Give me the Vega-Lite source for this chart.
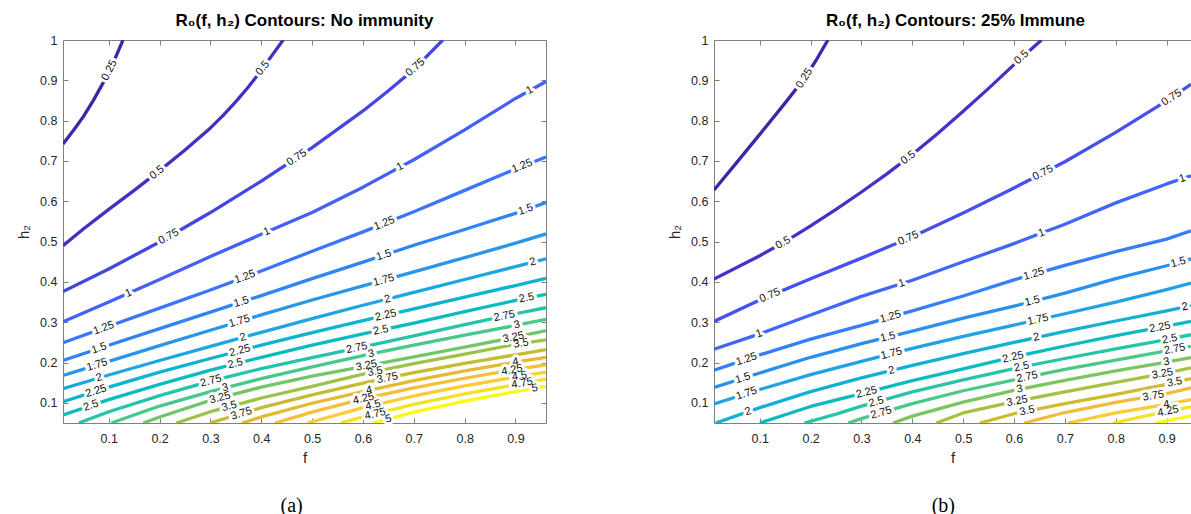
{
  "$schema": "https://vega.github.io/schema/vega-lite/v6.json",
  "padding": {"left": 16, "top": 12, "right": 0, "bottom": 0},
  "spacing": 120,
  "config": {
    "view": {"stroke": null},
    "font": "Liberation Sans",
    "axis": {"domainColor": "#808080", "tickColor": "#808080", "labelColor": "#262626", "titleColor": "#262626", "labelFontSize": 12.5, "titleFontSize": 15, "titleFontWeight": "normal", "grid": false, "labelFont": "Liberation Sans", "titleFont": "Liberation Sans", "domainWidth": 1, "tickWidth": 1}
  },
  "resolve": {"scale": {"color": "independent"}},
  "datasets": {
    "linesA": [
      {"level":0.25,"f":0.01,"h":0.742},{"level":0.25,"f":0.03,"h":0.775},{"level":0.25,"f":0.05,"h":0.810},{"level":0.25,"f":0.07,"h":0.851},{"level":0.25,"f":0.09,"h":0.896},{"level":0.25,"f":0.11,"h":0.947},{"level":0.25,"f":0.128,"h":1.0},
      {"level":0.5,"f":0.01,"h":0.490},{"level":0.5,"f":0.05,"h":0.531},{"level":0.5,"f":0.10,"h":0.580},{"level":0.5,"f":0.15,"h":0.627},{"level":0.5,"f":0.20,"h":0.676},{"level":0.5,"f":0.25,"h":0.727},{"level":0.5,"f":0.30,"h":0.782},{"level":0.5,"f":0.325,"h":0.813},{"level":0.5,"f":0.35,"h":0.847},{"level":0.5,"f":0.375,"h":0.884},{"level":0.5,"f":0.40,"h":0.925},{"level":0.5,"f":0.42,"h":0.960},{"level":0.5,"f":0.443,"h":1.0},
      {"level":0.75,"f":0.01,"h":0.376},{"level":0.75,"f":0.1,"h":0.432},{"level":0.75,"f":0.2,"h":0.499},{"level":0.75,"f":0.3,"h":0.572},{"level":0.75,"f":0.4,"h":0.650},{"level":0.75,"f":0.5,"h":0.733},{"level":0.75,"f":0.6,"h":0.824},{"level":0.75,"f":0.65,"h":0.874},{"level":0.75,"f":0.7,"h":0.927},{"level":0.75,"f":0.757,"h":1.0},
      {"level":1,"f":0.01,"h":0.301},{"level":1,"f":0.1,"h":0.350},{"level":1,"f":0.2,"h":0.406},{"level":1,"f":0.3,"h":0.463},{"level":1,"f":0.4,"h":0.518},{"level":1,"f":0.5,"h":0.572},{"level":1,"f":0.6,"h":0.635},{"level":1,"f":0.7,"h":0.703},{"level":1,"f":0.8,"h":0.777},{"level":1,"f":0.9,"h":0.855},{"level":1,"f":0.96,"h":0.897},
      {"level":1.25,"f":0.01,"h":0.249},{"level":1.25,"f":0.1,"h":0.290},{"level":1.25,"f":0.2,"h":0.335},{"level":1.25,"f":0.3,"h":0.380},{"level":1.25,"f":0.4,"h":0.427},{"level":1.25,"f":0.5,"h":0.476},{"level":1.25,"f":0.6,"h":0.524},{"level":1.25,"f":0.7,"h":0.574},{"level":1.25,"f":0.8,"h":0.627},{"level":1.25,"f":0.9,"h":0.680},{"level":1.25,"f":0.96,"h":0.710},
      {"level":1.5,"f":0.01,"h":0.205},{"level":1.5,"f":0.1,"h":0.243},{"level":1.5,"f":0.2,"h":0.284},{"level":1.5,"f":0.3,"h":0.325},{"level":1.5,"f":0.4,"h":0.366},{"level":1.5,"f":0.5,"h":0.408},{"level":1.5,"f":0.6,"h":0.449},{"level":1.5,"f":0.7,"h":0.491},{"level":1.5,"f":0.8,"h":0.530},{"level":1.5,"f":0.9,"h":0.570},{"level":1.5,"f":0.96,"h":0.597},
      {"level":1.75,"f":0.01,"h":0.168},{"level":1.75,"f":0.1,"h":0.203},{"level":1.75,"f":0.2,"h":0.242},{"level":1.75,"f":0.3,"h":0.280},{"level":1.75,"f":0.4,"h":0.318},{"level":1.75,"f":0.5,"h":0.355},{"level":1.75,"f":0.6,"h":0.390},{"level":1.75,"f":0.7,"h":0.425},{"level":1.75,"f":0.8,"h":0.460},{"level":1.75,"f":0.9,"h":0.496},{"level":1.75,"f":0.96,"h":0.519},
      {"level":2,"f":0.01,"h":0.135},{"level":2,"f":0.1,"h":0.169},{"level":2,"f":0.2,"h":0.205},{"level":2,"f":0.3,"h":0.240},{"level":2,"f":0.4,"h":0.275},{"level":2,"f":0.5,"h":0.309},{"level":2,"f":0.6,"h":0.342},{"level":2,"f":0.7,"h":0.374},{"level":2,"f":0.8,"h":0.406},{"level":2,"f":0.9,"h":0.438},{"level":2,"f":0.96,"h":0.457},
      {"level":2.25,"f":0.01,"h":0.103},{"level":2.25,"f":0.1,"h":0.139},{"level":2.25,"f":0.2,"h":0.176},{"level":2.25,"f":0.3,"h":0.210},{"level":2.25,"f":0.4,"h":0.243},{"level":2.25,"f":0.5,"h":0.274},{"level":2.25,"f":0.6,"h":0.304},{"level":2.25,"f":0.7,"h":0.333},{"level":2.25,"f":0.8,"h":0.362},{"level":2.25,"f":0.9,"h":0.391},{"level":2.25,"f":0.96,"h":0.409},
      {"level":2.5,"f":0.01,"h":0.070},{"level":2.5,"f":0.1,"h":0.108},{"level":2.5,"f":0.2,"h":0.146},{"level":2.5,"f":0.3,"h":0.181},{"level":2.5,"f":0.4,"h":0.213},{"level":2.5,"f":0.5,"h":0.243},{"level":2.5,"f":0.6,"h":0.271},{"level":2.5,"f":0.7,"h":0.298},{"level":2.5,"f":0.8,"h":0.326},{"level":2.5,"f":0.9,"h":0.354},{"level":2.5,"f":0.96,"h":0.369},
      {"level":2.75,"f":0.041,"h":0.05},{"level":2.75,"f":0.1,"h":0.078},{"level":2.75,"f":0.2,"h":0.118},{"level":2.75,"f":0.3,"h":0.154},{"level":2.75,"f":0.4,"h":0.185},{"level":2.75,"f":0.5,"h":0.212},{"level":2.75,"f":0.6,"h":0.239},{"level":2.75,"f":0.7,"h":0.266},{"level":2.75,"f":0.8,"h":0.294},{"level":2.75,"f":0.9,"h":0.321},{"level":2.75,"f":0.96,"h":0.336},
      {"level":3,"f":0.105,"h":0.05},{"level":3,"f":0.2,"h":0.092},{"level":3,"f":0.3,"h":0.128},{"level":3,"f":0.4,"h":0.160},{"level":3,"f":0.5,"h":0.189},{"level":3,"f":0.6,"h":0.217},{"level":3,"f":0.7,"h":0.243},{"level":3,"f":0.8,"h":0.268},{"level":3,"f":0.9,"h":0.292},{"level":3,"f":0.96,"h":0.307},
      {"level":3.25,"f":0.168,"h":0.05},{"level":3.25,"f":0.2,"h":0.065},{"level":3.25,"f":0.3,"h":0.106},{"level":3.25,"f":0.4,"h":0.139},{"level":3.25,"f":0.5,"h":0.166},{"level":3.25,"f":0.6,"h":0.190},{"level":3.25,"f":0.7,"h":0.214},{"level":3.25,"f":0.8,"h":0.238},{"level":3.25,"f":0.9,"h":0.263},{"level":3.25,"f":0.96,"h":0.279},
      {"level":3.5,"f":0.233,"h":0.05},{"level":3.5,"f":0.3,"h":0.078},{"level":3.5,"f":0.4,"h":0.112},{"level":3.5,"f":0.5,"h":0.141},{"level":3.5,"f":0.6,"h":0.171},{"level":3.5,"f":0.7,"h":0.197},{"level":3.5,"f":0.8,"h":0.221},{"level":3.5,"f":0.9,"h":0.245},{"level":3.5,"f":0.96,"h":0.256},
      {"level":3.75,"f":0.299,"h":0.05},{"level":3.75,"f":0.4,"h":0.088},{"level":3.75,"f":0.5,"h":0.120},{"level":3.75,"f":0.6,"h":0.149},{"level":3.75,"f":0.7,"h":0.175},{"level":3.75,"f":0.8,"h":0.198},{"level":3.75,"f":0.9,"h":0.219},{"level":3.75,"f":0.96,"h":0.232},
      {"level":4,"f":0.362,"h":0.05},{"level":4,"f":0.4,"h":0.065},{"level":4,"f":0.5,"h":0.099},{"level":4,"f":0.6,"h":0.128},{"level":4,"f":0.7,"h":0.155},{"level":4,"f":0.8,"h":0.179},{"level":4,"f":0.9,"h":0.201},{"level":4,"f":0.96,"h":0.213},
      {"level":4.25,"f":0.427,"h":0.05},{"level":4.25,"f":0.5,"h":0.077},{"level":4.25,"f":0.6,"h":0.110},{"level":4.25,"f":0.7,"h":0.137},{"level":4.25,"f":0.8,"h":0.161},{"level":4.25,"f":0.9,"h":0.183},{"level":4.25,"f":0.96,"h":0.194},
      {"level":4.5,"f":0.491,"h":0.05},{"level":4.5,"f":0.6,"h":0.088},{"level":4.5,"f":0.7,"h":0.117},{"level":4.5,"f":0.8,"h":0.142},{"level":4.5,"f":0.9,"h":0.164},{"level":4.5,"f":0.96,"h":0.176},
      {"level":4.75,"f":0.556,"h":0.05},{"level":4.75,"f":0.6,"h":0.065},{"level":4.75,"f":0.7,"h":0.096},{"level":4.75,"f":0.8,"h":0.122},{"level":4.75,"f":0.9,"h":0.145},{"level":4.75,"f":0.96,"h":0.159},
      {"level":5,"f":0.62,"h":0.05},{"level":5,"f":0.7,"h":0.077},{"level":5,"f":0.8,"h":0.104},{"level":5,"f":0.9,"h":0.128},{"level":5,"f":0.96,"h":0.141}
    ],
    "labelsA": [
      {"level":0.25,"f":0.1015,"h":0.925,"slope":2.55},
      {"level":0.5,"f":0.195,"h":0.671,"slope":1.0},{"level":0.5,"f":0.403,"h":0.930,"slope":1.6},
      {"level":0.75,"f":0.218,"h":0.512,"slope":0.7},{"level":0.75,"f":0.47,"h":0.708,"slope":0.83},{"level":0.75,"f":0.703,"h":0.932,"slope":1.1},
      {"level":1,"f":0.139,"h":0.372,"slope":0.56},{"level":1,"f":0.411,"h":0.524,"slope":0.55},{"level":1,"f":0.673,"h":0.685,"slope":0.68},{"level":1,"f":0.928,"h":0.875,"slope":0.72},
      {"level":1.25,"f":0.09,"h":0.285,"slope":0.46},{"level":1.25,"f":0.368,"h":0.412,"slope":0.47},{"level":1.25,"f":0.642,"h":0.545,"slope":0.5},{"level":1.25,"f":0.913,"h":0.687,"slope":0.53},
      {"level":1.5,"f":0.081,"h":0.235,"slope":0.42},{"level":1.5,"f":0.361,"h":0.350,"slope":0.41},{"level":1.5,"f":0.641,"h":0.466,"slope":0.42},{"level":1.5,"f":0.92,"h":0.579,"slope":0.43},
      {"level":1.75,"f":0.077,"h":0.194,"slope":0.39},{"level":1.75,"f":0.357,"h":0.302,"slope":0.38},{"level":1.75,"f":0.641,"h":0.404,"slope":0.35},
      {"level":2,"f":0.081,"h":0.162,"slope":0.37},{"level":2,"f":0.364,"h":0.262,"slope":0.35},{"level":2,"f":0.648,"h":0.357,"slope":0.32},{"level":2,"f":0.934,"h":0.449,"slope":0.32},
      {"level":2.25,"f":0.075,"h":0.129,"slope":0.4},{"level":2.25,"f":0.358,"h":0.229,"slope":0.33},{"level":2.25,"f":0.645,"h":0.317,"slope":0.29},
      {"level":2.5,"f":0.065,"h":0.093,"slope":0.42},{"level":2.5,"f":0.349,"h":0.197,"slope":0.32},{"level":2.5,"f":0.635,"h":0.280,"slope":0.27},{"level":2.5,"f":0.922,"h":0.360,"slope":0.27},
      {"level":2.75,"f":0.301,"h":0.154,"slope":0.33},{"level":2.75,"f":0.588,"h":0.236,"slope":0.27},{"level":2.75,"f":0.878,"h":0.315,"slope":0.27},
      {"level":3,"f":0.329,"h":0.137,"slope":0.32},{"level":3,"f":0.616,"h":0.221,"slope":0.26},{"level":3,"f":0.903,"h":0.293,"slope":0.25},
      {"level":3.25,"f":0.319,"h":0.112,"slope":0.33},{"level":3.25,"f":0.607,"h":0.192,"slope":0.24},{"level":3.25,"f":0.896,"h":0.262,"slope":0.25},
      {"level":3.5,"f":0.337,"h":0.091,"slope":0.34},{"level":3.5,"f":0.624,"h":0.177,"slope":0.26},{"level":3.5,"f":0.911,"h":0.247,"slope":0.19},
      {"level":3.75,"f":0.361,"h":0.073,"slope":0.38},{"level":3.75,"f":0.648,"h":0.161,"slope":0.26},
      {"level":4,"f":0.612,"h":0.131,"slope":0.27},{"level":4,"f":0.9,"h":0.201,"slope":0.22},
      {"level":4.25,"f":0.601,"h":0.110,"slope":0.3},{"level":4.25,"f":0.893,"h":0.181,"slope":0.22},
      {"level":4.5,"f":0.62,"h":0.094,"slope":0.29},{"level":4.5,"f":0.908,"h":0.166,"slope":0.22},
      {"level":4.75,"f":0.624,"h":0.072,"slope":0.31},{"level":4.75,"f":0.913,"h":0.148,"slope":0.23},
      {"level":5,"f":0.65,"h":0.060,"slope":0.34},{"level":5,"f":0.938,"h":0.136,"slope":0.22}
    ],
    "linesB": [
      {"level":0.25,"f":0.01,"h":0.628},{"level":0.25,"f":0.05,"h":0.689},{"level":0.25,"f":0.10,"h":0.766},{"level":0.25,"f":0.15,"h":0.844},{"level":0.25,"f":0.188,"h":0.905},{"level":0.25,"f":0.21,"h":0.948},{"level":0.25,"f":0.234,"h":1.0},
      {"level":0.5,"f":0.01,"h":0.407},{"level":0.5,"f":0.1,"h":0.465},{"level":0.5,"f":0.15,"h":0.500},{"level":0.5,"f":0.2,"h":0.539},{"level":0.5,"f":0.25,"h":0.580},{"level":0.5,"f":0.3,"h":0.623},{"level":0.5,"f":0.35,"h":0.668},{"level":0.5,"f":0.4,"h":0.716},{"level":0.5,"f":0.45,"h":0.768},{"level":0.5,"f":0.5,"h":0.823},{"level":0.5,"f":0.55,"h":0.880},{"level":0.5,"f":0.6,"h":0.939},{"level":0.5,"f":0.654,"h":1.0},
      {"level":0.75,"f":0.01,"h":0.302},{"level":0.75,"f":0.1,"h":0.355},{"level":0.75,"f":0.2,"h":0.408},{"level":0.75,"f":0.3,"h":0.459},{"level":0.75,"f":0.4,"h":0.512},{"level":0.75,"f":0.5,"h":0.571},{"level":0.75,"f":0.6,"h":0.633},{"level":0.75,"f":0.7,"h":0.698},{"level":0.75,"f":0.8,"h":0.771},{"level":0.75,"f":0.9,"h":0.849},{"level":0.75,"f":0.948,"h":0.890},
      {"level":1,"f":0.01,"h":0.233},{"level":1,"f":0.1,"h":0.271},{"level":1,"f":0.2,"h":0.318},{"level":1,"f":0.3,"h":0.364},{"level":1,"f":0.4,"h":0.404},{"level":1,"f":0.5,"h":0.450},{"level":1,"f":0.6,"h":0.495},{"level":1,"f":0.7,"h":0.543},{"level":1,"f":0.8,"h":0.596},{"level":1,"f":0.9,"h":0.643},{"level":1,"f":0.948,"h":0.663},
      {"level":1.25,"f":0.01,"h":0.181},{"level":1.25,"f":0.1,"h":0.219},{"level":1.25,"f":0.2,"h":0.258},{"level":1.25,"f":0.3,"h":0.292},{"level":1.25,"f":0.4,"h":0.328},{"level":1.25,"f":0.5,"h":0.365},{"level":1.25,"f":0.6,"h":0.405},{"level":1.25,"f":0.7,"h":0.441},{"level":1.25,"f":0.8,"h":0.475},{"level":1.25,"f":0.9,"h":0.506},{"level":1.25,"f":0.948,"h":0.527},
      {"level":1.5,"f":0.01,"h":0.138},{"level":1.5,"f":0.1,"h":0.174},{"level":1.5,"f":0.2,"h":0.213},{"level":1.5,"f":0.3,"h":0.247},{"level":1.5,"f":0.4,"h":0.278},{"level":1.5,"f":0.5,"h":0.310},{"level":1.5,"f":0.6,"h":0.340},{"level":1.5,"f":0.7,"h":0.372},{"level":1.5,"f":0.8,"h":0.408},{"level":1.5,"f":0.9,"h":0.440},{"level":1.5,"f":0.948,"h":0.457},
      {"level":1.75,"f":0.01,"h":0.097},{"level":1.75,"f":0.1,"h":0.133},{"level":1.75,"f":0.2,"h":0.170},{"level":1.75,"f":0.3,"h":0.203},{"level":1.75,"f":0.4,"h":0.235},{"level":1.75,"f":0.5,"h":0.265},{"level":1.75,"f":0.6,"h":0.293},{"level":1.75,"f":0.7,"h":0.321},{"level":1.75,"f":0.8,"h":0.350},{"level":1.75,"f":0.9,"h":0.381},{"level":1.75,"f":0.948,"h":0.397},
      {"level":2,"f":0.0135,"h":0.05},{"level":2,"f":0.1,"h":0.088},{"level":2,"f":0.2,"h":0.128},{"level":2,"f":0.3,"h":0.162},{"level":2,"f":0.4,"h":0.193},{"level":2,"f":0.5,"h":0.222},{"level":2,"f":0.6,"h":0.250},{"level":2,"f":0.7,"h":0.277},{"level":2,"f":0.8,"h":0.303},{"level":2,"f":0.9,"h":0.328},{"level":2,"f":0.948,"h":0.341},
      {"level":2.25,"f":0.1,"h":0.05},{"level":2.25,"f":0.2,"h":0.091},{"level":2.25,"f":0.3,"h":0.123},{"level":2.25,"f":0.4,"h":0.155},{"level":2.25,"f":0.5,"h":0.184},{"level":2.25,"f":0.6,"h":0.214},{"level":2.25,"f":0.7,"h":0.241},{"level":2.25,"f":0.8,"h":0.267},{"level":2.25,"f":0.9,"h":0.290},{"level":2.25,"f":0.948,"h":0.302},
      {"level":2.5,"f":0.188,"h":0.05},{"level":2.5,"f":0.25,"h":0.072},{"level":2.5,"f":0.3,"h":0.092},{"level":2.5,"f":0.4,"h":0.127},{"level":2.5,"f":0.5,"h":0.157},{"level":2.5,"f":0.6,"h":0.185},{"level":2.5,"f":0.7,"h":0.210},{"level":2.5,"f":0.8,"h":0.234},{"level":2.5,"f":0.9,"h":0.257},{"level":2.5,"f":0.948,"h":0.269},
      {"level":2.75,"f":0.274,"h":0.05},{"level":2.75,"f":0.3,"h":0.061},{"level":2.75,"f":0.4,"h":0.098},{"level":2.75,"f":0.5,"h":0.130},{"level":2.75,"f":0.6,"h":0.157},{"level":2.75,"f":0.7,"h":0.183},{"level":2.75,"f":0.8,"h":0.206},{"level":2.75,"f":0.9,"h":0.229},{"level":2.75,"f":0.948,"h":0.240},
      {"level":3,"f":0.362,"h":0.05},{"level":3,"f":0.4,"h":0.067},{"level":3,"f":0.5,"h":0.102},{"level":3,"f":0.6,"h":0.131},{"level":3,"f":0.7,"h":0.156},{"level":3,"f":0.8,"h":0.179},{"level":3,"f":0.9,"h":0.201},{"level":3,"f":0.948,"h":0.212},
      {"level":3.25,"f":0.447,"h":0.05},{"level":3.25,"f":0.5,"h":0.075},{"level":3.25,"f":0.6,"h":0.103},{"level":3.25,"f":0.7,"h":0.127},{"level":3.25,"f":0.8,"h":0.151},{"level":3.25,"f":0.9,"h":0.174},{"level":3.25,"f":0.948,"h":0.187},
      {"level":3.5,"f":0.533,"h":0.05},{"level":3.5,"f":0.6,"h":0.073},{"level":3.5,"f":0.7,"h":0.098},{"level":3.5,"f":0.8,"h":0.121},{"level":3.5,"f":0.9,"h":0.146},{"level":3.5,"f":0.948,"h":0.160},
      {"level":3.75,"f":0.62,"h":0.05},{"level":3.75,"f":0.7,"h":0.076},{"level":3.75,"f":0.8,"h":0.101},{"level":3.75,"f":0.9,"h":0.123},{"level":3.75,"f":0.948,"h":0.137},
      {"level":4,"f":0.706,"h":0.05},{"level":4,"f":0.8,"h":0.075},{"level":4,"f":0.9,"h":0.096},{"level":4,"f":0.948,"h":0.108},
      {"level":4.25,"f":0.795,"h":0.05},{"level":4.25,"f":0.85,"h":0.065},{"level":4.25,"f":0.9,"h":0.078},{"level":4.25,"f":0.948,"h":0.090},
      {"level":4.5,"f":0.879,"h":0.05},{"level":4.5,"f":0.948,"h":0.068}
    ],
    "labelsB": [
      {"level":0.25,"f":0.188,"h":0.905,"slope":2.0},
      {"level":0.5,"f":0.146,"h":0.497,"slope":0.72},{"level":0.5,"f":0.392,"h":0.708,"slope":0.95},{"level":0.5,"f":0.615,"h":0.957,"slope":1.18},
      {"level":0.75,"f":0.12,"h":0.366,"slope":0.53},{"level":0.75,"f":0.392,"h":0.508,"slope":0.55},{"level":0.75,"f":0.657,"h":0.670,"slope":0.65},{"level":0.75,"f":0.91,"h":0.857,"slope":0.82},
      {"level":1,"f":0.099,"h":0.271,"slope":0.45},{"level":1,"f":0.379,"h":0.396,"slope":0.42},{"level":1,"f":0.654,"h":0.521,"slope":0.48},{"level":1,"f":0.931,"h":0.656,"slope":0.45},
      {"level":1.25,"f":0.074,"h":0.208,"slope":0.42},{"level":1.25,"f":0.357,"h":0.313,"slope":0.36},{"level":1.25,"f":0.639,"h":0.419,"slope":0.36},
      {"level":1.5,"f":0.067,"h":0.161,"slope":0.4},{"level":1.5,"f":0.352,"h":0.263,"slope":0.31},{"level":1.5,"f":0.636,"h":0.352,"slope":0.32},{"level":1.5,"f":0.923,"h":0.448,"slope":0.35},
      {"level":1.75,"f":0.074,"h":0.123,"slope":0.4},{"level":1.75,"f":0.359,"h":0.222,"slope":0.32},{"level":1.75,"f":0.647,"h":0.306,"slope":0.28},
      {"level":2,"f":0.077,"h":0.078,"slope":0.4},{"level":2,"f":0.359,"h":0.180,"slope":0.31},{"level":2,"f":0.644,"h":0.262,"slope":0.27},{"level":2,"f":0.936,"h":0.338,"slope":0.26},
      {"level":2.25,"f":0.31,"h":0.126,"slope":0.32},{"level":2.25,"f":0.598,"h":0.213,"slope":0.3},{"level":2.25,"f":0.887,"h":0.287,"slope":0.23},
      {"level":2.5,"f":0.329,"h":0.102,"slope":0.35},{"level":2.5,"f":0.615,"h":0.189,"slope":0.27},{"level":2.5,"f":0.906,"h":0.258,"slope":0.23},
      {"level":2.75,"f":0.339,"h":0.075,"slope":0.37},{"level":2.75,"f":0.626,"h":0.164,"slope":0.26},{"level":2.75,"f":0.916,"h":0.233,"slope":0.23},
      {"level":3,"f":0.611,"h":0.134,"slope":0.26},{"level":3,"f":0.9,"h":0.201,"slope":0.23},
      {"level":3.25,"f":0.606,"h":0.104,"slope":0.25},{"level":3.25,"f":0.892,"h":0.172,"slope":0.23},
      {"level":3.5,"f":0.626,"h":0.080,"slope":0.26},{"level":3.5,"f":0.916,"h":0.151,"slope":0.26},
      {"level":3.75,"f":0.874,"h":0.117,"slope":0.22},
      {"level":4,"f":0.9,"h":0.096,"slope":0.22},
      {"level":4.25,"f":0.903,"h":0.079,"slope":0.26}
    ]
  },
  "hconcat": [
    {
      "title": {"text": "(a)", "orient": "bottom", "anchor": "middle", "font": "Liberation Serif", "fontSize": 20, "fontWeight": "normal", "color": "black", "offset": 30, "dx": 10},
      "vconcat": [
        {
          "width": 483, "height": 383,
          "title": {"text": "R₀(f, h₂) Contours: No immunity", "fontSize": 17, "fontWeight": "bold", "color": "black", "font": "Liberation Sans", "anchor": "middle", "offset": 4},
          "resolve": {"axis": {"x": "independent", "y": "independent"}},
          "layer": [
            {
              "data": {"name": "linesA"},
              "mark": {"type": "line", "strokeWidth": 3.3, "clip": true, "strokeCap": "butt", "strokeJoin": "round"},
              "encoding": {
                "x": {"field": "f", "type": "quantitative", "scale": {"domain": [0.01, 0.96], "nice": false, "zero": false},
                      "axis": {"values": [0.1,0.2,0.3,0.4,0.5,0.6,0.7,0.8,0.9], "format": ".1f", "title": "f", "tickSize": -5, "labelPadding": 14, "titlePadding": 6}},
                "y": {"field": "h", "type": "quantitative", "scale": {"domain": [0.05, 1], "nice": false, "zero": false},
                      "axis": {"values": [0.1,0.2,0.3,0.4,0.5,0.6,0.7,0.8,0.9,1], "format": ".1~f", "title": "h₂", "tickSize": -5, "labelPadding": 11, "titlePadding": 8}},
                "color": {"field": "level", "type": "ordinal", "legend": null,
                          "scale": {"domain": [0.25,0.5,0.75,1,1.25,1.5,1.75,2,2.25,2.5,2.75,3,3.25,3.5,3.75,4,4.25,4.5,4.75,5],
                                    "range": ["#3e26a8","#4230c3","#4545e2","#4560f7","#3b75fc","#2f84f6","#2796eb","#1ea6e0","#0eb3d1","#0bbcbf","#25c3a9","#47c98c","#72c66a","#9dc24a","#c6bb32","#e4ba31","#f7be3c","#fbcd35","#f5e224","#f9fb0e"]}}
              }
            },
            {
              "data": {"name": "labelsA"},
              "mark": {"type": "text", "font": "Liberation Sans", "fontSize": 11, "fill": "white", "stroke": "white", "strokeWidth": 6, "strokeJoin": "round", "align": "center", "baseline": "middle"},
              "encoding": {
                "x": {"field": "f", "type": "quantitative", "axis": {"orient": "top", "values": [0.1,0.2,0.3,0.4,0.5,0.6,0.7,0.8,0.9], "labels": false, "title": null, "tickSize": -5}},
                "y": {"field": "h", "type": "quantitative", "axis": {"orient": "right", "values": [0.1,0.2,0.3,0.4,0.5,0.6,0.7,0.8,0.9,1], "labels": false, "title": null, "tickSize": -5}},
                "text": {"field": "level", "type": "nominal"},
                "angle": {"field": "slope", "type": "quantitative", "scale": {"domain": [0,0.25,0.5,0.75,1,1.5,2,3], "range": [0,-11.2,-21.6,-30.8,-38.4,-50,-57.8,-67.2]}}
              }
            },
            {
              "data": {"name": "labelsA"},
              "mark": {"type": "text", "font": "Liberation Sans", "fontSize": 11, "fill": "#111111", "align": "center", "baseline": "middle"},
              "encoding": {
                "x": {"field": "f", "type": "quantitative", "axis": null},
                "y": {"field": "h", "type": "quantitative", "axis": null},
                "text": {"field": "level", "type": "nominal"},
                "angle": {"field": "slope", "type": "quantitative", "scale": {"domain": [0,0.25,0.5,0.75,1,1.5,2,3], "range": [0,-11.2,-21.6,-30.8,-38.4,-50,-57.8,-67.2]}}
              }
            }
          ]
        }
      ]
    },
    {
      "title": {"text": "(b)", "orient": "bottom", "anchor": "middle", "font": "Liberation Serif", "fontSize": 20, "fontWeight": "normal", "color": "black", "offset": 30, "dx": 14},
      "vconcat": [
        {
          "width": 477, "height": 383,
          "title": {"text": "R₀(f, h₂) Contours: 25% Immune", "fontSize": 17, "fontWeight": "bold", "color": "black", "font": "Liberation Sans", "anchor": "middle", "offset": 4, "dx": 3},
          "resolve": {"axis": {"x": "independent", "y": "independent"}},
          "layer": [
            {
              "data": {"name": "linesB"},
              "mark": {"type": "line", "strokeWidth": 3.3, "clip": true, "strokeCap": "butt", "strokeJoin": "round"},
              "encoding": {
                "x": {"field": "f", "type": "quantitative", "scale": {"domain": [0.01, 0.948], "nice": false, "zero": false},
                      "axis": {"values": [0.1,0.2,0.3,0.4,0.5,0.6,0.7,0.8,0.9], "format": ".1f", "title": "f", "tickSize": -5, "labelPadding": 14, "titlePadding": 6}},
                "y": {"field": "h", "type": "quantitative", "scale": {"domain": [0.05, 1], "nice": false, "zero": false},
                      "axis": {"values": [0.1,0.2,0.3,0.4,0.5,0.6,0.7,0.8,0.9,1], "format": ".1~f", "title": "h₂", "tickSize": -5, "labelPadding": 11, "titlePadding": 8}},
                "color": {"field": "level", "type": "ordinal", "legend": null,
                          "scale": {"domain": [0.25,0.5,0.75,1,1.25,1.5,1.75,2,2.25,2.5,2.75,3,3.25,3.5,3.75,4,4.25,4.5],
                                    "range": ["#3e26a8","#4332c8","#464ff0","#4266fa","#357efa","#2a90ee","#21a2e3","#12b1d4","#0bbbc0","#27c4a7","#4cc988","#7cc563","#a7c142","#d0bb2c","#f2bb3b","#fbcb36","#f6e125","#f9fb0e"]}}
              }
            },
            {
              "data": {"name": "labelsB"},
              "mark": {"type": "text", "font": "Liberation Sans", "fontSize": 11, "fill": "white", "stroke": "white", "strokeWidth": 6, "strokeJoin": "round", "align": "center", "baseline": "middle"},
              "encoding": {
                "x": {"field": "f", "type": "quantitative", "axis": {"orient": "top", "values": [0.1,0.2,0.3,0.4,0.5,0.6,0.7,0.8,0.9], "labels": false, "title": null, "tickSize": -5}},
                "y": {"field": "h", "type": "quantitative", "axis": null},
                "text": {"field": "level", "type": "nominal"},
                "angle": {"field": "slope", "type": "quantitative", "scale": {"domain": [0,0.25,0.5,0.75,1,1.5,2,3], "range": [0,-11.2,-21.6,-30.8,-38.4,-50,-57.8,-67.2]}}
              }
            },
            {
              "data": {"name": "labelsB"},
              "mark": {"type": "text", "font": "Liberation Sans", "fontSize": 11, "fill": "#111111", "align": "center", "baseline": "middle"},
              "encoding": {
                "x": {"field": "f", "type": "quantitative", "axis": null},
                "y": {"field": "h", "type": "quantitative", "axis": null},
                "text": {"field": "level", "type": "nominal"},
                "angle": {"field": "slope", "type": "quantitative", "scale": {"domain": [0,0.25,0.5,0.75,1,1.5,2,3], "range": [0,-11.2,-21.6,-30.8,-38.4,-50,-57.8,-67.2]}}
              }
            }
          ]
        }
      ]
    }
  ]
}
